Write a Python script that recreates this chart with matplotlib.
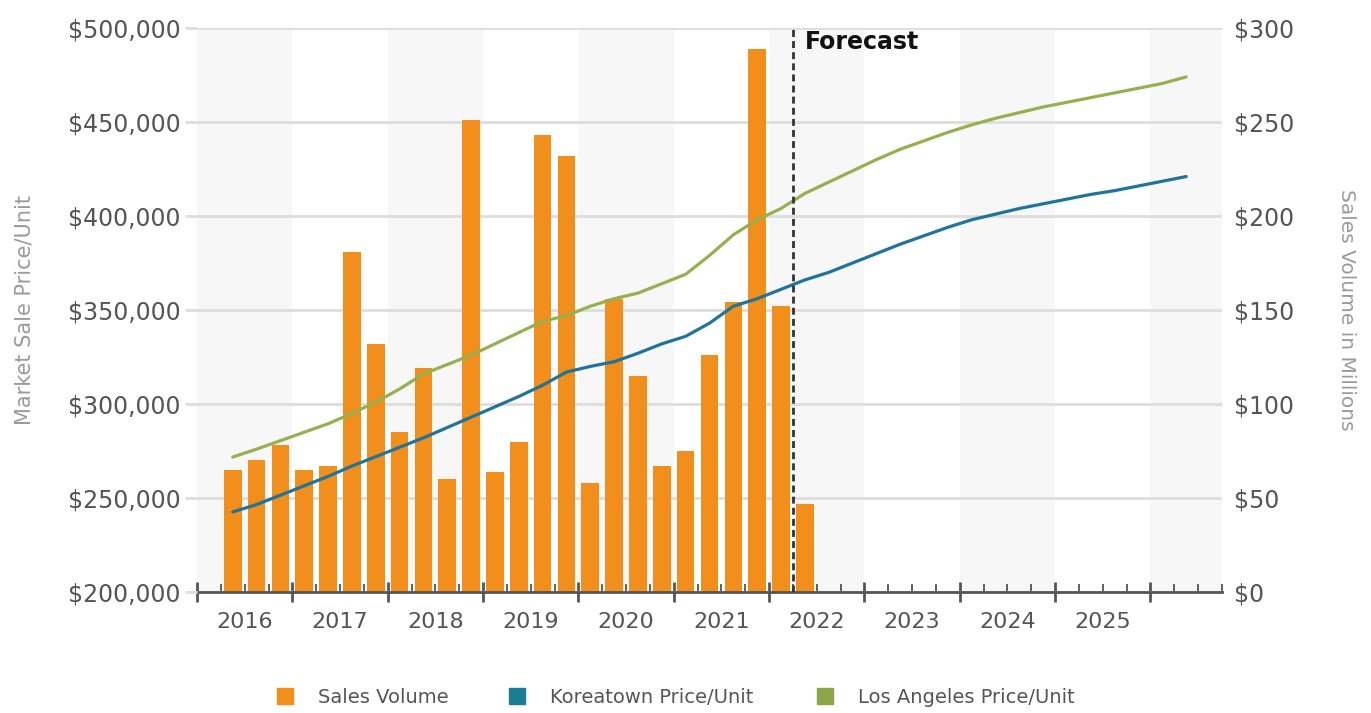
import numpy as np
import matplotlib
matplotlib.use("Agg")
import matplotlib.pyplot as plt
from matplotlib.lines import Line2D
from matplotlib.ticker import FuncFormatter, MultipleLocator

# quarterly periods, 2016 Q2 .. 2026 Q2
quarters = [f"{y}Q{q}" for y in range(2016, 2027) for q in range(1, 5)][1:42]

# sales volume in millions, 2016 Q2 .. 2022 Q2
sales_volume = [65, 70, 78, 65, 67, 181, 132, 85, 119, 60, 251, 64, 80,
                243, 232, 58, 156, 115, 67, 75, 126, 154, 289, 152, 47]

koreatown_price = [242.6, 246.5, 251.5, 256.5, 261.5, 267, 272, 277, 282,
                   287.5, 293, 298.5, 304, 310, 317, 320, 322.5, 327, 332,
                   336, 343, 352, 356, 361, 366, 370, 375, 380, 385, 389.5,
                   394, 398, 401, 404, 406.5, 409, 411.5, 413.5, 416, 418.5,
                   421]
los_angeles_price = [271.8, 276, 280.5, 285, 289.5, 295, 301, 308, 316, 321,
                     326, 332, 338, 344, 347, 352, 356, 359, 364, 369, 379,
                     390, 398, 404, 412, 418, 424, 430, 435.5, 440, 444.5,
                     448.5, 452, 455, 458, 460.5, 463, 465.5, 468, 470.5, 474]

year_labels = [2016, 2017, 2018, 2019, 2020, 2021, 2022, 2023, 2024, 2025]
forecast_start = "2022Q2"
legend_labels = ["Sales Volume", "Koreatown Price/Unit", "Los Angeles Price/Unit"]

ORANGE = "#f28e1c"
BLUE = "#20739a"
GREEN = "#97b04f"
TICK_GREY = "#555555"
LABEL_GREY = "#9a9a9a"


def quarter_x(label):
    y, q = label.split("Q")
    return int(y) + (int(q) - 0.5) / 4.0


x_all = np.array([quarter_x(q) for q in quarters])
x_bars = x_all[:len(sales_volume)]
x_forecast = int(forecast_start[:4]) + (int(forecast_start[-1]) - 1) / 4.0

plt.rcParams["font.family"] = ["DejaVu Sans"]

fig = plt.figure(figsize=(13.71, 7.13), dpi=100)
ax = fig.add_axes([0.1437, 0.1697, 0.8913 - 0.1437, 0.9607 - 0.1697])
ax2 = ax.twinx()

x0, x1 = 2016.0, 2026.75
ax.set_xlim(x0, x1)
ax.set_ylim(0, 300)
ax2.set_ylim(200000, 500000)

# alternating year bands
ax.set_facecolor("white")
for yr in range(2016, 2027, 2):
    ax.axvspan(yr, min(yr + 1, x1), color="#f7f7f7", zorder=0, lw=0)

ax.yaxis.set_major_locator(MultipleLocator(50))
ax.grid(axis="y", color="#dddddd", lw=2, zorder=0.5)
ax.set_axisbelow(True)

ax.bar(x_bars, sales_volume, width=0.185, color=ORANGE, zorder=2)

ax2.plot(x_all, np.array(koreatown_price) * 1000, color=BLUE, lw=2.3,
         solid_capstyle="round", zorder=3)
ax2.plot(x_all, np.array(los_angeles_price) * 1000, color=GREEN, lw=2.3,
         solid_capstyle="round", zorder=3)

ax2.axvline(x_forecast, color="#333333", lw=2, ls=(0, (2.5, 1.5)), zorder=4)
ax2.text(x_forecast + 0.13, 0.975, "Forecast", transform=ax2.get_xaxis_transform(),
         fontsize=17, fontweight="bold", color="#111111", va="center", ha="left")

# spines
for a in (ax, ax2):
    for s in ("top", "left", "right", "bottom"):
        a.spines[s].set_visible(False)
ax.spines["bottom"].set_visible(True)
ax.spines["bottom"].set_color(TICK_GREY)
ax.spines["bottom"].set_linewidth(2)

# x ticks: years major, quarters minor, labels centred on each year
ax.set_xticks(range(2016, 2027))
ax.set_xticklabels([])
ax.set_xticks(np.arange(2016, 2026.8, 0.25), minor=True)
ax.tick_params(axis="x", which="major", direction="inout", length=14, width=2,
               color=TICK_GREY)
ax.tick_params(axis="x", which="minor", direction="in", length=6, width=1.3,
               color=TICK_GREY)
for yr in year_labels:
    ax.text(yr + 0.5, -0.035, str(yr), transform=ax.get_xaxis_transform(),
            ha="center", va="top", fontsize=16, color=TICK_GREY)

# right axis (sales volume)
ax.yaxis.tick_right()
ax.yaxis.set_major_formatter(FuncFormatter(lambda v, p: f"${v:,.0f}"))
ax.tick_params(axis="y", length=0, pad=9, labelsize=17, labelcolor=TICK_GREY)
ax.yaxis.set_label_position("right")
ax.set_ylabel("Sales Volume in Millions", rotation=270, labelpad=44,
              fontsize=14.5, color=LABEL_GREY)

# left axis (price)
ax2.yaxis.tick_left()
ax2.yaxis.set_major_locator(MultipleLocator(50000))
ax2.yaxis.set_major_formatter(FuncFormatter(lambda v, p: f"${v:,.0f}"))
ax2.tick_params(axis="y", length=9, width=2, color="#dddddd", pad=3,
                labelsize=17, labelcolor=TICK_GREY)
ax2.yaxis.set_label_position("left")
ax2.set_ylabel("Market Sale Price/Unit", labelpad=24, fontsize=15,
               color=LABEL_GREY)

# legend entries placed individually along the bottom
legend_colors = [ORANGE, "#1a7d93", "#8ca548"]
legend_left_px = [275, 507, 815]
for lab, col, px in zip(legend_labels, legend_colors, legend_left_px):
    h = Line2D([], [], marker="s", ls="none", ms=11, color=col)
    fig.legend([h], [lab], loc="center left", bbox_to_anchor=(px / 1371, 0.022),
               frameon=False, fontsize=14, labelcolor=TICK_GREY,
               handlelength=1.0, handletextpad=1.2, borderpad=0,
               borderaxespad=0)

fig.savefig("out.png", dpi=100)
